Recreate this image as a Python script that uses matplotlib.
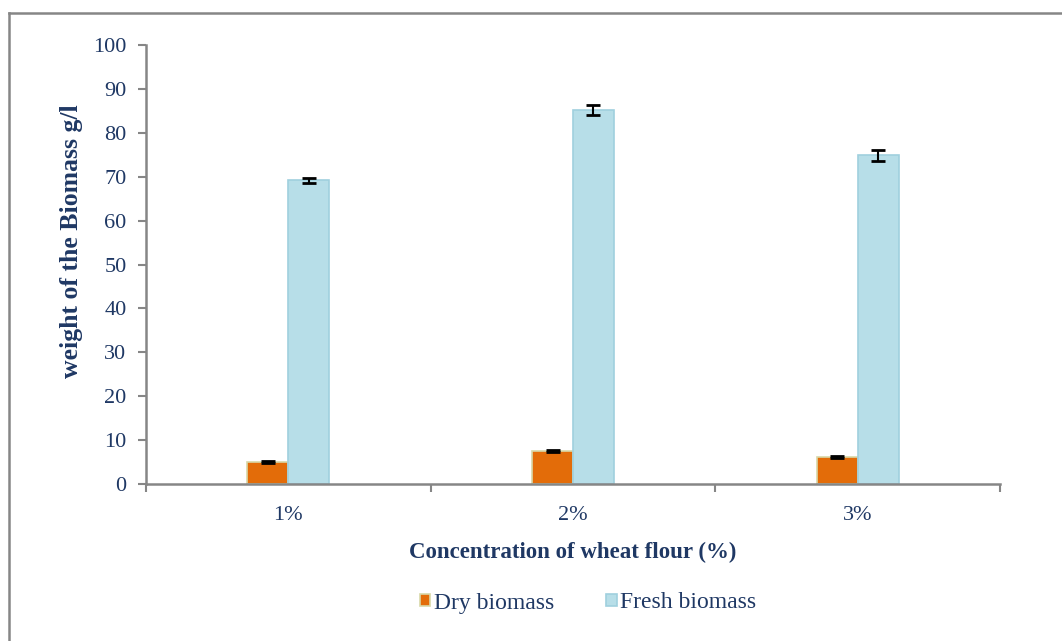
import matplotlib
matplotlib.use("Agg")
import matplotlib.pyplot as plt
from matplotlib.lines import Line2D
import numpy as np

categories = ["1%", "2%", "3%"]
dry = [5.0, 7.5, 6.2]
dry_err = [0.25, 0.2, 0.2]
fresh = [69.2, 85.2, 74.9]
fresh_err = [0.6, 1.1, 1.25]
series_names = ["Dry biomass", "Fresh biomass"]

navy = "#1F3864"
gray = "#868686"
plt.rcParams['font.family'] = ['Liberation Serif', 'DejaVu Serif']

fig = plt.figure(figsize=(10.62, 6.41), dpi=100)
ax = fig.add_axes([146/1062, 1-484/641, (1000-146)/1062, (484-45)/641])

x = np.arange(len(categories))
w = 0.144
ax.bar(x - w/2, dry, w, color="#E36C09", edgecolor="#D8D8A8", linewidth=1.2,
       yerr=dry_err, error_kw=dict(ecolor="black", elinewidth=1.5, capsize=5, capthick=2), label=series_names[0], zorder=2)
ax.bar(x + w/2, fresh, w, color="#B7DEE8", edgecolor="#A0D0DE", linewidth=1.2,
       yerr=fresh_err, error_kw=dict(ecolor="black", elinewidth=1.5, capsize=5, capthick=2), label=series_names[1], zorder=2)

ax.set_xlim(-0.5, 2.5)
ax.set_ylim(0, 100)
ax.set_yticks(range(0, 101, 10))
ax.set_xticks(x)
ax.set_xticklabels(categories)
ax.set_xticks([-0.5, 0.5, 1.5, 2.5], minor=True)
ax.tick_params(axis='x', which='major', length=0, pad=16, labelsize=16, labelcolor=navy)
ax.tick_params(axis='x', which='minor', length=6, width=1.5, color=gray, direction='out')
ax.tick_params(axis='y', length=6, width=1.5, color=gray, direction='out', labelsize=16, labelcolor=navy, pad=8)

for s in ["top", "right"]:
    ax.spines[s].set_visible(False)
for s in ["left", "bottom"]:
    ax.spines[s].set_color(gray)
    ax.spines[s].set_linewidth(1.8)

ax.set_ylabel("weight of the Biomass g/l", fontsize=18.5, fontweight="bold", color=navy)
ax.yaxis.set_label_coords(-0.074, 0.553)
ax.set_xlabel("Concentration of wheat flour (%)", fontsize=16.5, fontweight="bold", color=navy, labelpad=12)

leg = fig.legend(loc="center", bbox_to_anchor=(588/1062, 1-603/641), ncol=2, frameon=False,
                 fontsize=17, handlelength=0.45, handleheight=0.45, handletextpad=0.15, columnspacing=2.2)
for t in leg.get_texts():
    t.set_color(navy)

# outer frame (left and top edges)
fig.add_artist(Line2D([9/1062, 9/1062], [0, 1-13/641], transform=fig.transFigure, color=gray, linewidth=1.8))
fig.add_artist(Line2D([9/1062, 1], [1-13/641, 1-13/641], transform=fig.transFigure, color=gray, linewidth=1.8))

fig.savefig("out.png", dpi=100)
